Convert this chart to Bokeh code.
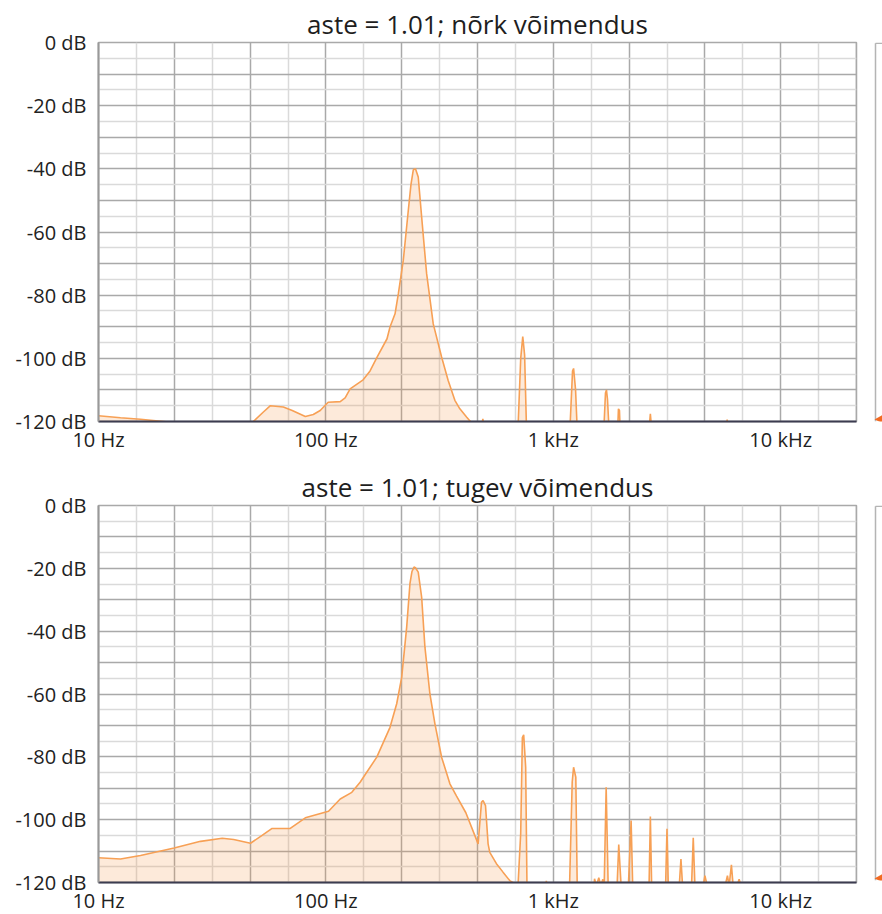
from bokeh.plotting import figure
from bokeh.models import Range1d, FixedTicker
from bokeh.layouts import column, row
from bokeh.embed import file_html
from bokeh.resources import INLINE

# ---------------- data ----------------
titles = ["aste = 1.01; nõrk võimendus", "aste = 1.01; tugev võimendus"]

x_tick_values = [10, 100, 1000, 10000]
x_tick_labels = ["10 Hz", "100 Hz", "1 kHz", "10 kHz"]
y_tick_values = [0, -20, -40, -60, -80, -100, -120]
y_tick_labels = ["0 dB", "-20 dB", "-40 dB", "-60 dB", "-80 dB", "-100 dB", "-120 dB"]

# weak gain spectrum (Hz, dB)
weak_freq = [10, 12.5, 15.3, 21.4, 47.5, 53.1, 57.0, 65.0, 71.1, 81.2,
             88.0, 94.4, 102.3, 115.6, 121.5, 127.8, 145.8, 156.4, 167.9, 185.7,
             191.4, 201.4, 208.2, 218.9, 230.3, 236.6, 242.3, 247.7, 254.7, 263.7,
             277.3, 296.5, 322.7, 344.9, 369.1, 388.2, 415.4, 438, 475, 490,
             505, 697, 719, 734, 748, 764, 1179, 1215, 1228, 1253,
             1278, 1662, 1696, 1713, 1731, 1766, 1914, 1934, 1954, 1974,
             2618, 2672, 2726, 5697, 5814, 5932, 21544]
weak_db = [-118.2, -118.8, -119.3, -120.3, -120.3, -117.0, -115.0, -115.4, -116.5, -118.4,
           -117.8, -116.5, -113.9, -113.7, -112.5, -109.7, -106.8, -104.0, -99.6, -93.8,
           -90.1, -85.9, -79.6, -69.0, -53.2, -45.0, -40.3, -40.0, -42.6, -55.3,
           -73.2, -89.1, -99.6, -107.0, -113.3, -116.0, -118.6, -120.5, -125, -119.2,
           -125, -125, -100, -93.1, -99, -125, -125, -104, -103.2, -110,
           -125, -125, -111, -110, -113, -125, -125, -116, -116.5, -125,
           -125, -117.6, -125, -125, -119.4, -125, -125]

# strong gain spectrum (Hz, dB)
strong_freq = [10, 12.5, 15.3, 21.5, 28.1, 35.0, 39.3, 46.6, 52.4, 58.0,
               69.7, 81.2, 102.7, 115.6, 130.0, 141.4, 146.2, 167.4, 191.4, 204.8,
               215.4, 226.6, 234.2, 239.1, 244.0, 247.7, 254.7, 263.7, 272.6, 286.7,
               301.6, 322.7, 351.0, 375.5, 412.5, 451.6, 467.0, 483.3, 491.1, 503.3,
               516.7, 525.6, 562.3, 601.1, 643.3, 699.5, 718.8, 731.1, 741, 756,
               766, 916, 932, 944, 1179, 1211, 1228, 1256, 1274, 1503,
               1518, 1548, 1585, 1618, 1651, 1674, 1708, 1743, 1908, 1940,
               1987, 2139, 2199, 2234, 2637, 2672, 2707, 3118, 3162, 3204,
               3580, 3642, 3702, 4055, 4125, 4196, 4562, 4642, 4751, 5697,
               5832, 5932, 6071, 6177, 6431, 6562, 6697, 21544]
strong_db = [-112.1, -112.5, -111.4, -109.0, -106.9, -105.9, -106.3, -107.5, -105.0, -102.8,
             -102.8, -99.4, -97.3, -93.4, -91.3, -88.1, -86.5, -80.1, -70.6, -63.1,
             -54.7, -38.7, -24.9, -21.0, -19.6, -19.8, -21.2, -29.2, -45.1, -60.0,
             -69.5, -80.1, -88.6, -92.5, -97.8, -105.0, -107.7, -94.5, -93.9, -95.5,
             -107.7, -110.4, -114.0, -116.7, -119.4, -121, -104.4, -73.9, -73.0, -83.3,
             -121, -125, -119.5, -125, -121, -88, -83.3, -86.5, -121, -125,
             -118.8, -121, -118.5, -121, -119, -121, -89.7, -121, -121, -107.9,
             -121, -121, -100.3, -121, -121, -99.0, -121, -121, -102.9, -121,
             -121, -112.5, -121, -121, -105.8, -121, -121, -117.8, -121, -121,
             -117.8, -121, -114.4, -121, -121, -119, -121, -125]

# ---------------- styling ----------------
FONT = "Open Sans"
LINE = "#f7a055"
FILL = "#f79646"
GRID_DARK = "#a9a9a9"
GRID_LIGHT = "#dadada"

x_grid_major = [10 ** (1 + k / 3) for k in range(11)]
x_grid_minor = [10 ** (1 + (2 * k + 1) / 6) for k in range(10)]
y_grid_major = list(range(0, -121, -10))
y_grid_minor = [-5 - 10 * k for k in range(12)]


def build(title, freq, db, top, fh, bottom):
    p = figure(x_axis_type="log", x_range=Range1d(10, 10 ** (4 + 1 / 3)),
               y_range=Range1d(-120, 0), frame_width=758, frame_height=fh,
               min_border_left=98, min_border_right=2, min_border_top=top,
               min_border_bottom=bottom, output_backend="svg",
               toolbar_location=None, title=title)
    p.title.text_font = FONT
    p.title.text_font_size = "26px"
    p.title.text_font_style = "normal"
    p.title.text_color = "#1e1e1e"
    p.title.align = "center"
    p.title.standoff = 2
    p.title.offset = 5

    p.background_fill_color = "white"
    p.border_fill_color = "white"
    p.outline_line_color = "#a9a9a9"
    p.outline_line_width = 1.5

    p.xgrid.ticker = FixedTicker(ticks=x_grid_major, minor_ticks=x_grid_minor)
    p.ygrid.ticker = FixedTicker(ticks=y_grid_major, minor_ticks=y_grid_minor)
    for g in (p.xgrid, p.ygrid):
        g.grid_line_color = GRID_DARK
        g.grid_line_width = 1.5
        g.minor_grid_line_color = GRID_LIGHT
        g.minor_grid_line_width = 1.5

    p.xaxis.ticker = FixedTicker(ticks=x_tick_values)
    p.xaxis.major_label_overrides = dict(zip(x_tick_values, x_tick_labels))
    p.yaxis.ticker = FixedTicker(ticks=y_tick_values)
    p.yaxis.major_label_overrides = dict(zip(y_tick_values, y_tick_labels))
    for ax in (p.xaxis, p.yaxis):
        ax.major_tick_line_color = None
        ax.minor_tick_line_color = None
        ax.major_tick_in = 0
        ax.major_tick_out = 0
        ax.minor_tick_in = 0
        ax.minor_tick_out = 0
        ax.major_label_text_font = FONT
        ax.major_label_text_font_size = "20px"
        ax.major_label_text_color = "#222222"
    p.yaxis.major_label_standoff = 12
    p.xaxis.major_label_standoff = 4
    p.yaxis.axis_line_color = "#999999"
    p.yaxis.axis_line_width = 2
    p.xaxis.axis_line_color = "#3c3c50"
    p.xaxis.axis_line_width = 2

    p.varea(x=freq, y1=-130, y2=db, fill_color=FILL, fill_alpha=0.2)
    p.line(x=freq, y=db, line_color=LINE, line_width=1.6)
    return p


def side(top, fh, total_h):
    # right-hand strip of the original screenshot: thin panel edge and marker.
    # Its frame is aligned with the neighbouring plot frame (canvas y top..top+fh).
    fb = top + fh
    s = figure(width=24, height=total_h, x_range=Range1d(858, 882),
               y_range=Range1d(fb, top), min_border=0,
               x_axis_location=None, y_axis_location=None,
               output_backend="svg", toolbar_location=None)
    s.grid.visible = False
    s.outline_line_color = None
    s.background_fill_color = "white"
    s.border_fill_color = "white"
    s.segment(x0=[875, 875], y0=[top + 0.8, top + 0.8], x1=[875, 884],
              y1=[fb, top + 0.8], line_color="#b4b4b4", line_width=1.5)
    s.patch(x=[874, 883, 883], y=[fb - 2, fb - 7, fb + 2],
            fill_color="#f26a22", line_color=None)
    return s


p1 = build(titles[0], weak_freq, weak_db, 42, 379, 39)
p2 = build(titles[1], strong_freq, strong_db, 45, 377, 32)
s1 = side(42, 379, 460)
s2 = side(45, 377, 454)
layout = column(row(p1, s1, spacing=0), row(p2, s2, spacing=0), spacing=0)

open("out.html", "w").write(file_html(layout, INLINE))
